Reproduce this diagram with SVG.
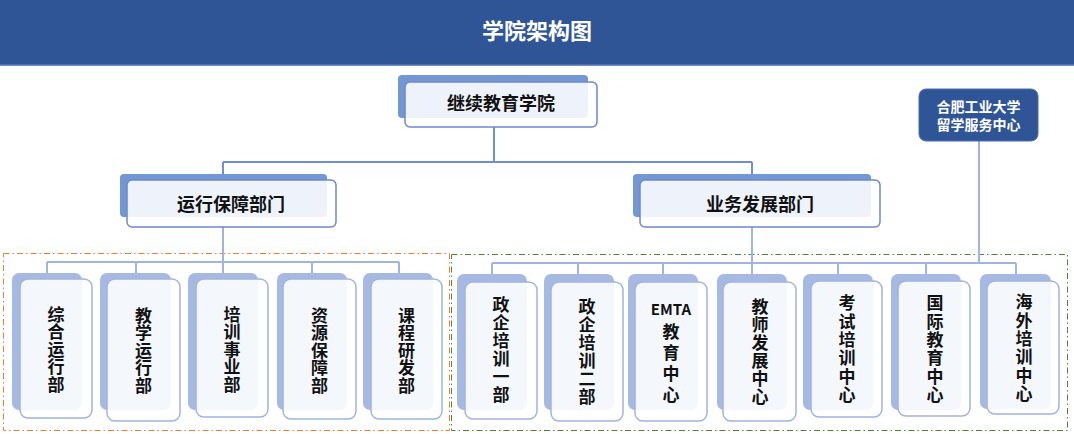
<svg xmlns="http://www.w3.org/2000/svg" width="1074" height="434" viewBox="0 0 1074 434">
<style>
.hdr{fill:#2F5597}
.t1{font-family:"Noto Sans CJK SC","Noto Sans",sans-serif;font-weight:bold;fill:#111}
.sh1{fill:#7397d3}
.fr1{fill:#fff;fill-opacity:0.88;stroke:#6e88c9;stroke-width:1.5}
.sh2{fill:#a5b9e2}
.fr2{fill:#fff;fill-opacity:0.88;stroke:#a3b3df;stroke-width:1.5}
.c1{fill:none;stroke:#6f8fcf;stroke-width:2}
.c2{fill:none;stroke:#a2b3e0;stroke-width:2}
.vt{font-family:"Noto Sans CJK SC","Noto Sans",sans-serif;font-weight:bold;font-size:17px;fill:#111;text-anchor:middle;writing-mode:vertical-rl}
.v5{letter-spacing:0.5px}
.v6{letter-spacing:1px}
</style>
<rect x="0" y="0" width="1074" height="65" class="hdr"/>
<rect x="0" y="64.5" width="1074" height="1.5" fill="#6d8cc6"/>
<text x="537" y="39" font-family="Noto Sans CJK SC,sans-serif" font-weight="bold" font-size="22" fill="#fff" text-anchor="middle">学院架构图</text>

<rect x="3.5" y="253.5" width="446" height="177" fill="none" stroke="#ED7D31" stroke-width="1" stroke-dasharray="6 3 1.5 3"/>
<rect x="451.5" y="254.5" width="616" height="176" fill="none" stroke="#548235" stroke-width="1" stroke-dasharray="6 3 1.5 3"/>

<g id="connectors">
<path class="c1" d="M494 127V162M223 162H752M223 162V180M752 162V180"/>
<path class="c2" d="M223 227V262M47 262H399M47 262V274M136 262V274M223 262V274M312 262V274M399 262V274"/>
<path class="c2" d="M752 227V282M492 263H1016M492 263V274M578 263V274M663 263V274M838 263V274M926 263V274M1016 263V274M979 141V263"/>
</g>

<g id="n-root">
<rect x="398" y="75" width="190" height="43" rx="4" class="sh1"/>
<rect x="405" y="82" width="192" height="45" rx="5" class="fr1"/>
<text x="501" y="110" class="t1" font-size="18" text-anchor="middle">继续教育学院</text>
</g>
<g id="n-yunxing">
<rect x="120" y="174" width="207" height="43" rx="4" class="sh1"/>
<rect x="127" y="180" width="209" height="47" rx="5" class="fr1"/>
<text x="231" y="211" class="t1" font-size="18" text-anchor="middle">运行保障部门</text>
</g>
<g id="n-yewu">
<rect x="633" y="174" width="238" height="43" rx="4" class="sh1"/>
<rect x="640" y="180" width="240" height="47" rx="5" class="fr1"/>
<text x="760" y="211" class="t1" font-size="18" text-anchor="middle">业务发展部门</text>
</g>
<g id="n-liuxue">
<rect x="919" y="89" width="119" height="52" rx="7" fill="#2F5597" stroke="#4a6fb3" stroke-width="1"/>
<text x="978.5" y="112" font-family="Noto Sans CJK SC,sans-serif" font-weight="bold" font-size="14" fill="#fff" text-anchor="middle">合肥工业大学</text>
<text x="978.5" y="130" font-family="Noto Sans CJK SC,sans-serif" font-weight="bold" font-size="14" fill="#fff" text-anchor="middle">留学服务中心</text>
</g>

<g id="b1">
<rect x="12" y="273" width="70" height="137" rx="7" class="sh2"/>
<rect x="20" y="279" width="72" height="139" rx="8" class="fr2"/>
<text class="vt v5" x="56" y="349.5">综合运行部</text>
</g>
<g id="b2">
<rect x="100" y="273" width="71" height="137" rx="7" class="sh2"/>
<rect x="107" y="279" width="73" height="142" rx="8" class="fr2"/>
<text class="vt v5" x="143.5" y="350.5">教学运行部</text>
</g>
<g id="b3">
<rect x="188" y="273" width="70" height="137" rx="7" class="sh2"/>
<rect x="196" y="279" width="72" height="138" rx="8" class="fr2"/>
<text class="vt v5" x="232" y="349.5">培训事业部</text>
</g>
<g id="b4">
<rect x="277" y="273" width="70" height="137" rx="7" class="sh2"/>
<rect x="283" y="279" width="73" height="140" rx="8" class="fr2"/>
<text class="vt v5" x="319.5" y="350.5">资源保障部</text>
</g>
<g id="b5">
<rect x="363" y="273" width="70" height="137" rx="7" class="sh2"/>
<rect x="371" y="279" width="71" height="140" rx="8" class="fr2"/>
<text class="vt v5" x="406.5" y="350.5">课程研发部</text>
</g>

<g id="b6">
<rect x="457" y="274" width="70" height="136" rx="7" class="sh2"/>
<rect x="465" y="282" width="72" height="137" rx="8" class="fr2"/>
<text class="vt v6" x="501" y="350.5">政企培训一部</text>
</g>
<g id="b7">
<rect x="544" y="274" width="70" height="136" rx="7" class="sh2"/>
<rect x="551" y="282" width="72" height="139" rx="8" class="fr2"/>
<text class="vt v6" x="587" y="352.5">政企培训二部</text>
</g>
<g id="b8">
<rect x="628" y="274" width="70" height="136" rx="7" class="sh2"/>
<rect x="635" y="282" width="72" height="139" rx="8" class="fr2"/>
<text x="671" y="315" class="t1" font-size="15" text-anchor="middle">EMTA</text>
<text class="vt" x="671" y="365" style="letter-spacing:4px">教育中心</text>
</g>
<g id="b9">
<rect x="717" y="274" width="70" height="136" rx="7" class="sh2"/>
<rect x="723" y="282" width="73" height="139" rx="8" class="fr2"/>
<text class="vt v6" x="760" y="352.5">教师发展中心</text>
</g>
<g id="b10">
<rect x="803" y="274" width="70" height="136" rx="7" class="sh2"/>
<rect x="811" y="281" width="71" height="136" rx="8" class="fr2"/>
<text class="vt" x="847" y="349.5" style="letter-spacing:1.4px">考试培训中心</text>
</g>
<g id="b11">
<rect x="891" y="274" width="70" height="136" rx="7" class="sh2"/>
<rect x="898" y="281" width="72" height="135" rx="8" class="fr2"/>
<text class="vt" x="935" y="349.5" style="letter-spacing:1.4px">国际教育中心</text>
</g>
<g id="b12">
<rect x="980" y="274" width="71" height="135" rx="7" class="sh2"/>
<rect x="987" y="281" width="72" height="133" rx="8" class="fr2"/>
<text class="vt" x="1024" y="348.5" style="letter-spacing:1.4px">海外培训中心</text>
</g>
</svg>
